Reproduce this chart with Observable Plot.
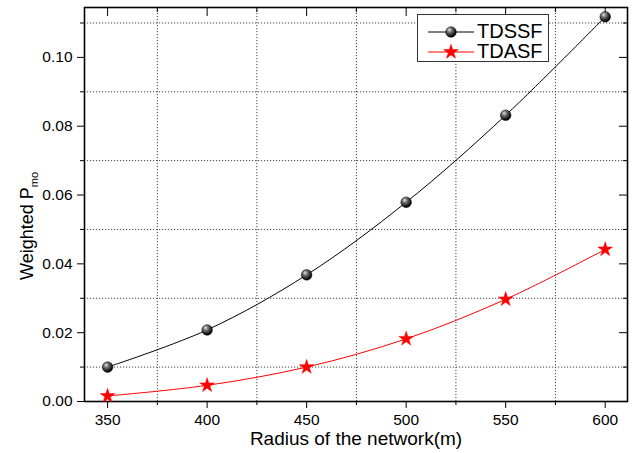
<!DOCTYPE html>
<html><head><meta charset="utf-8">
<script src="https://cdn.jsdelivr.net/npm/d3@7"></script>
<script src="https://cdn.jsdelivr.net/npm/@observablehq/plot@0.6"></script>
<style>
body{margin:0;background:#fff;font-family:"Liberation Sans",Arial,sans-serif;}
#wrap{position:relative;width:642px;height:453px;}
#legend{position:absolute;left:417px;top:14px;width:132px;height:48px;border:1px solid #333;background:#fff;box-sizing:border-box;}
.lrow{position:absolute;left:0;height:20px;}
.lrow svg{position:absolute;left:9px;top:0;}
.lrow span{position:absolute;left:59px;top:-3px;font-size:20px;line-height:24px;color:#000;white-space:nowrap;}
</style>
</head><body>
<div id="wrap"></div>
<script>
// ---- data ----
const radius = [350, 400, 450, 500, 550, 600];
const tdssf = [0.0100, 0.0208, 0.0368, 0.0579, 0.0832, 0.1118];
const tdasf = [0.0016, 0.0047, 0.0100, 0.0182, 0.0297, 0.0442];
const seriesNames = ["TDSSF", "TDASF"];
const xMajor = [350, 400, 450, 500, 550, 600];
const xMinor = [375, 425, 475, 525, 575];
const yMajor = [0.00, 0.02, 0.04, 0.06, 0.08, 0.10];
const yMinor = [0.01, 0.03, 0.05, 0.07, 0.09, 0.11];
const xLabel = "Radius of the network(m)";
const yLabelMain = "Weighted P";
const yLabelSub = "mo";

const s1 = radius.map((r, i) => ({r, v: tdssf[i]}));
const s2 = radius.map((r, i) => ({r, v: tdasf[i]}));

const chart = Plot.plot({
  width: 642, height: 453,
  marginLeft: 84, marginRight: 15, marginTop: 7, marginBottom: 52,
  style: {fontSize: "15px", fontFamily: "'Liberation Sans', Arial, sans-serif", color: "#000", background: "#fff"},
  x: {domain: [338.4, 611.2]},
  y: {domain: [0, 0.1145]},
  marks: [
    Plot.ruleX(xMinor, {stroke: "#444", strokeDasharray: "1.2,1.8", strokeWidth: 1}),
    Plot.ruleY(yMinor, {stroke: "#444", strokeDasharray: "1.2,1.8", strokeWidth: 1}),
    Plot.axisX({ticks: xMajor, tickSize: 7, tickPadding: 5, tickFormat: d => String(d), fontSize: 15.5, label: null}),
    Plot.axisX({ticks: xMinor, tickSize: 4, fill: "none", label: null}),
    Plot.axisX({anchor: "top", ticks: xMajor, tickSize: -8, fill: "none", label: null}),
    Plot.axisX({anchor: "top", ticks: xMinor, tickSize: -4, fill: "none", label: null}),
    Plot.axisY({ticks: yMajor, tickSize: 7, tickPadding: 5, tickFormat: d => d.toFixed(2), fontSize: 15.5, label: null}),
    Plot.axisY({ticks: yMinor, tickSize: 4, fill: "none", label: null}),
    Plot.axisY({anchor: "right", ticks: yMajor, tickSize: -9, fill: "none", label: null}),
    Plot.axisY({anchor: "right", ticks: yMinor, tickSize: -5, fill: "none", label: null}),
    Plot.frame({stroke: "#000", strokeWidth: 1.6}),
    Plot.line(s1, {x: "r", y: "v", stroke: "#000", strokeWidth: 1, curve: "catmull-rom"}),
    Plot.line(s2, {x: "r", y: "v", stroke: "#ff0000", strokeWidth: 1, curve: "catmull-rom"}),
    Plot.dot(s1, {x: "r", y: "v", r: 5.3, fill: "url(#ball)", stroke: "#000", strokeWidth: 0.5}),
    Plot.dot(s2, {x: "r", y: "v", r: 4.6, symbol: "star", fill: "#ff0000", stroke: "#ff0000", strokeWidth: 0.5}),
    Plot.text([xLabel], {text: d => d, frameAnchor: "bottom", dy: 43, fontSize: 19, fill: "#000"})
  ]
});

const svg = d3.select(chart.tagName.toLowerCase() === "svg" ? chart : chart.querySelector("svg"));
const defs = svg.insert("defs", ":first-child");
const g = defs.append("radialGradient").attr("id", "ball").attr("cx", "40%").attr("cy", "35%").attr("r", "60%").attr("fx", "35%").attr("fy", "30%");
g.append("stop").attr("offset", "0%").attr("stop-color", "#e8e8e8");
g.append("stop").attr("offset", "35%").attr("stop-color", "#7a7a7a");
g.append("stop").attr("offset", "100%").attr("stop-color", "#000");

// rotated y-axis title with subscript
const yt = svg.append("text")
  .attr("transform", "translate(33,226) rotate(-90)")
  .attr("text-anchor", "middle")
  .attr("font-size", 18)
  .attr("fill", "#000")
  .attr("font-family", "'Liberation Sans', Arial, sans-serif");
yt.append("tspan").text(yLabelMain);
yt.append("tspan").attr("font-size", 11).attr("dy", 5).text(yLabelSub);

const wrap = document.getElementById("wrap");
wrap.appendChild(chart);

// legend
const legend = document.createElement("div");
legend.id = "legend";
const legendStyles = [
  {stroke: "#000", fill: "url(#ball)", symbol: "circle", r: 5.3},
  {stroke: "#ff0000", fill: "#ff0000", symbol: "star", r: 4.6}
];
seriesNames.forEach((name, i) => {
  const row = document.createElement("div");
  row.className = "lrow";
  row.style.top = (7 + i * 20) + "px";
  row.style.width = "130px";
  const st = legendStyles[i];
  const ns = "http://www.w3.org/2000/svg";
  const sw = document.createElementNS(ns, "svg");
  sw.setAttribute("width", 48); sw.setAttribute("height", 20);
  const ln = document.createElementNS(ns, "line");
  ln.setAttribute("x1", 1); ln.setAttribute("x2", 47); ln.setAttribute("y1", 10); ln.setAttribute("y2", 10);
  ln.setAttribute("stroke", st.stroke); ln.setAttribute("stroke-width", 1);
  sw.appendChild(ln);
  const p = document.createElementNS(ns, "path");
  const sym = st.symbol === "star" ? d3.symbolStar : d3.symbolCircle;
  p.setAttribute("d", d3.symbol(sym, Math.PI * st.r * st.r)());
  p.setAttribute("transform", "translate(24,10)");
  p.setAttribute("fill", st.fill); p.setAttribute("stroke", st.stroke); p.setAttribute("stroke-width", 0.5);
  sw.appendChild(p);
  row.appendChild(sw);
  const sp = document.createElement("span");
  sp.textContent = name;
  row.appendChild(sp);
  legend.appendChild(row);
});
wrap.appendChild(legend);
</script>
</body></html>
